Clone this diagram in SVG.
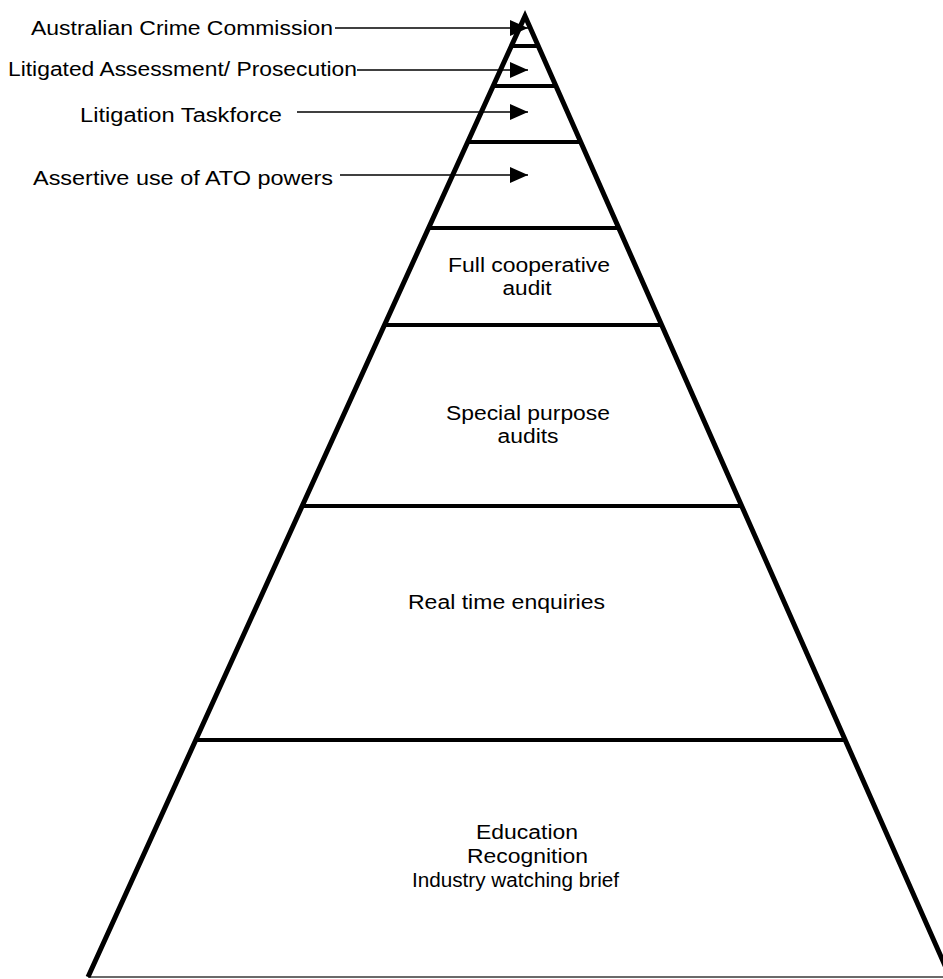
<svg xmlns="http://www.w3.org/2000/svg" width="943" height="979" viewBox="0 0 943 979">
  <style>
    .edge { stroke: #000; stroke-width: 5; fill: none; stroke-linejoin: miter; }
    .tier { stroke: #000; stroke-width: 4; }
    .base { stroke: #6a6a6a; stroke-width: 2; }
    .pointer { stroke: #000; stroke-width: 1.6; fill: none; marker-end: url(#head); }
    text { font-family: "Liberation Sans", Arial, sans-serif; font-size: 20px; fill: #000; }
    .mid { text-anchor: middle; }
  </style>
  <defs>
    <marker id="head" markerWidth="20" markerHeight="18" refX="18" refY="8" markerUnits="userSpaceOnUse" orient="auto">
      <path d="M0,0 L18,8 L0,16 Z" fill="#000"/>
    </marker>
  </defs>

  <rect width="943" height="979" fill="#fff"/>

  <!-- pyramid outline and tier dividers -->
  <g id="pyramid">
    <line class="base" x1="88" y1="977" x2="943" y2="977"/>
    <polyline class="edge" points="88,977 525,16 950,977"/>
    <line class="tier" x1="512" y1="46" x2="538" y2="46"/>
    <line class="tier" x1="493" y1="86" x2="556" y2="86"/>
    <line class="tier" x1="468" y1="142" x2="580" y2="142"/>
    <line class="tier" x1="429" y1="228" x2="619" y2="228"/>
    <line class="tier" x1="385" y1="325" x2="661" y2="325"/>
    <line class="tier" x1="303" y1="506" x2="741" y2="506"/>
    <line class="tier" x1="196" y1="740" x2="845" y2="740"/>
  </g>

  <!-- tier labels -->
  <g id="tier-full-cooperative">
    <text x="448" y="272" textLength="162" lengthAdjust="spacingAndGlyphs">Full cooperative</text>
    <text class="mid" x="527" y="295" textLength="49" lengthAdjust="spacingAndGlyphs">audit</text>
  </g>
  <g id="tier-special-purpose">
    <text x="446" y="420" textLength="164" lengthAdjust="spacingAndGlyphs">Special purpose</text>
    <text class="mid" x="528" y="443" textLength="61" lengthAdjust="spacingAndGlyphs">audits</text>
  </g>
  <g id="tier-real-time">
    <text x="408" y="609" textLength="197" lengthAdjust="spacingAndGlyphs">Real time enquiries</text>
  </g>
  <g id="tier-education">
    <text x="476" y="839" textLength="102" lengthAdjust="spacingAndGlyphs">Education</text>
    <text x="467" y="863" textLength="121" lengthAdjust="spacingAndGlyphs">Recognition</text>
    <text x="412" y="887" textLength="207" lengthAdjust="spacingAndGlyphs">Industry watching brief</text>
  </g>

  <!-- side labels -->
  <g id="label-acc">
    <text x="31" y="35" textLength="302" lengthAdjust="spacingAndGlyphs">Australian Crime Commission</text>
  </g>
  <g id="label-litigated">
    <text x="8" y="76" textLength="349" lengthAdjust="spacingAndGlyphs">Litigated Assessment/ Prosecution</text>
  </g>
  <g id="label-taskforce">
    <text x="80" y="122" textLength="202" lengthAdjust="spacingAndGlyphs">Litigation Taskforce</text>
  </g>
  <g id="label-assertive">
    <text x="33" y="185" textLength="300" lengthAdjust="spacingAndGlyphs">Assertive use of ATO powers</text>
  </g>

  <!-- pointers into the pyramid -->
  <g id="connectors">
    <line class="pointer" x1="335" y1="28" x2="528" y2="28"/>
    <line class="pointer" x1="357" y1="70" x2="528" y2="70"/>
    <line class="pointer" x1="297" y1="112" x2="528" y2="112"/>
    <line class="pointer" x1="340" y1="175" x2="528" y2="175"/>
  </g>
</svg>
